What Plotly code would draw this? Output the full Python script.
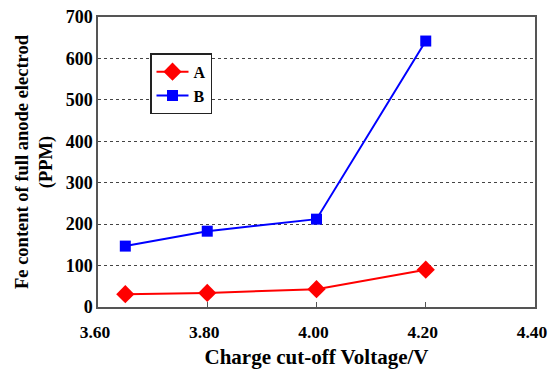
import plotly.graph_objects as go

voltage = [3.65, 3.80, 4.00, 4.20]
series_a = [31, 34, 43, 90]
series_b = [147, 183, 212, 642]
x_ticks = [3.60, 3.80, 4.00, 4.20, 4.40]
x_tick_labels = ["3.60", "3.80", "4.00", "4.20", "4.40"]
y_ticks = [0, 100, 200, 300, 400, 500, 600, 700]

font_family = "Liberation Serif, Times New Roman, serif"

fig = go.Figure()
fig.add_trace(go.Scatter(
    x=voltage, y=series_a, name="<b>A</b>", mode="lines+markers",
    line=dict(color="#ff0000", width=2),
    marker=dict(symbol="diamond", size=14, color="#ff0000"),
))
fig.add_trace(go.Scatter(
    x=voltage, y=series_b, name="<b>B</b>", mode="lines+markers",
    line=dict(color="#0000ff", width=2),
    marker=dict(symbol="square", size=11, color="#0000ff"),
))

fig.update_layout(
    width=548, height=369,
    margin=dict(l=98, r=13, t=17, b=62),
    paper_bgcolor="white", plot_bgcolor="white",
    font=dict(family=font_family, color="black"),
    showlegend=True,
    legend=dict(
        x=0.119, y=0.875, xanchor="left", yanchor="top",
        bordercolor="#222", borderwidth=1.5, bgcolor="white",
        font=dict(size=16, family=font_family),
        itemwidth=32, tracegroupgap=0,
    ),
    xaxis=dict(
        range=[3.60, 4.40], tickvals=x_ticks, ticktext=x_tick_labels,
        showgrid=False, zeroline=False,
        showline=True, linecolor="#555", linewidth=1.5, mirror=True,
        ticks="inside", ticklen=5, tickcolor="#555",
        ticklabeloverflow="allow", ticklabelstandoff=8, ticklabelshift=-3,
        tickfont=dict(size=17.5, family=font_family, weight="bold"),
        title=dict(text="<b>Charge cut-off Voltage/V</b>", font=dict(size=21, family=font_family), standoff=14),
        automargin=False,
    ),
    yaxis=dict(
        range=[0, 700], tickvals=y_ticks,
        showgrid=True, gridcolor="#444", griddash="dot", gridwidth=1.2,
        zeroline=False,
        showline=True, linecolor="#555", linewidth=1.5, mirror=True,
        ticks="",
        tickfont=dict(size=18, family=font_family, weight="bold"),
        title=dict(text="<b>Fe content of full anode electrod<br>(PPM)</b>", font=dict(size=18.5, family=font_family), standoff=8),
        automargin=False,
    ),
)

fig.write_html("out.html")
